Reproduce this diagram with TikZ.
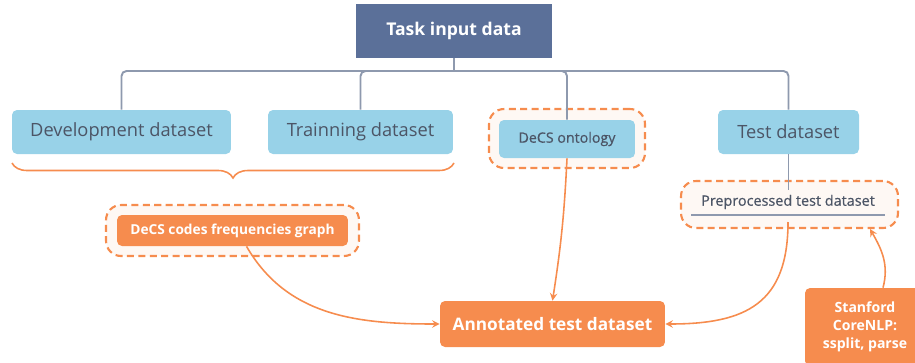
\documentclass[tikz,border=0pt]{standalone}
\usepackage{fontspec}
\setmainfont{Open Sans}
\newfontfamily\semib[FakeBold=0.6]{Open Sans}
\usetikzlibrary{arrows,shapes,calc,decorations.pathreplacing}
\definecolor{taskblue}{HTML}{5B7099}
\definecolor{dsblue}{HTML}{98D2E8}
\definecolor{dorange}{HTML}{F68C4E}
\definecolor{dtext}{HTML}{4C5566}
\definecolor{lgrey}{HTML}{8E99AE}
\definecolor{paper}{HTML}{FEF8F4}
\tikzstyle{dset}=[rectangle,rounded corners=0.1cm,fill=dsblue,text=dtext,minimum height=0.88cm,font=\fontsize{10.4}{12}\selectfont]
\tikzstyle{obox}=[rectangle,rounded corners=0.1cm,fill=dorange,text=white,align=center]
\tikzstyle{dbox}=[rectangle,rounded corners=0.3cm,draw=dorange,fill=paper,line width=1.2pt,dash pattern=on 4pt off 2.5pt]
\tikzstyle{tree}=[draw=lgrey,line width=1.1pt,rounded corners=0.1cm]
\tikzstyle{oarr}=[->,>=stealth,draw=dorange,line width=0.9pt]

\begin{document}
\begin{tikzpicture}[x=0.02cm,y=-0.02cm]
\useasboundingbox (0,0) rectangle (915,362);
\clip (0,0) rectangle (915,362);
% dashed frames
\node[dbox,minimum width=3.12cm,minimum height=1.18cm] (Ob) at (567,138.5) {};
\node[dbox,minimum width=5.06cm,minimum height=1.02cm] (Fb) at (232.5,230.5) {};
\node[dbox,minimum width=4.34cm,minimum height=0.94cm] (Pb) at (789.5,204.5) {};
% boxes
\node[rectangle,fill=taskblue,text=white,minimum width=3.92cm,minimum height=1.08cm,font=\bfseries\fontsize{10}{12}\selectfont] (task) at (454,31) {Task input data};
\node[dset,minimum width=4.38cm] (dev) at (121.5,132) {Development dataset};
\node[dset,minimum width=3.7cm] (train) at (360.5,132) {Trainning dataset};
\node[dset,minimum width=2.82cm] (test) at (788.5,132) {Test dataset};
\node[dset,minimum width=2.72cm,minimum height=0.76cm,font=\semib\fontsize{8.1}{10}\selectfont] (onto) at (567,139) {DeCS ontology};
\node[text=dtext,font=\semib\fontsize{8.2}{10}\selectfont] (prep) at (788,202) {Preprocessed test dataset};
\node[obox,minimum width=4.62cm,minimum height=0.62cm,font=\bfseries\fontsize{7.8}{10}\selectfont] (freq) at (232.5,230.5) {DeCS codes frequencies graph};
\node[obox,minimum width=4.5cm,minimum height=0.92cm,font=\bfseries\fontsize{9.8}{12}\selectfont] (annot) at (552.5,324) {Annotated test dataset};
\node[obox,minimum width=2.4cm,minimum height=1.56cm,font=\bfseries\fontsize{8}{10.2}\selectfont] (stan) at (865,327) {Stanford\\CoreNLP:\\ssplit, parse};
% tree from the input data
\coordinate (hub) at (454,71);
\draw[tree] (task.south) -- (hub);
\draw[tree] (hub) -| (dev.north);
\draw[tree] (hub) -| (train.north);
\draw[tree] (hub) -| (onto.north);
\draw[tree] (hub) -| (test.north);
\draw[tree] (test.south) -- ++(0,36);
\draw[draw=lgrey,line width=1.1pt] (691,215) -- (885,215);
% brace under the two datasets
\draw[draw=dorange,line width=0.9pt,decorate,decoration={brace,mirror,amplitude=0.3cm}] (12,163) -- (454,163);
% arrows
\coordinate (prepout) at (788,222);
\coordinate (prepin) at (870,229);
\draw[oarr] ($(freq.south)+(14,0)$) to[out=-60,in=180] (annot.west);
\draw[oarr] (onto.south) to[bend left=3] (annot.north);
\draw[oarr] (prepout) to[out=-90,in=0,looseness=1.3] (annot.east);
\draw[oarr] ($(stan.north)+(18,0)$) to[out=75,in=-60] (prepin);
\end{tikzpicture}
\end{document}
